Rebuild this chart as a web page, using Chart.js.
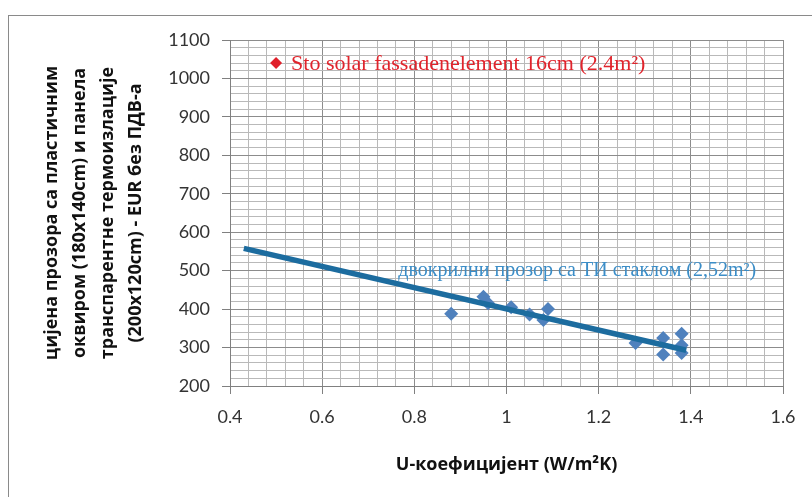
<!DOCTYPE html>
<html>
<head>
<meta charset="utf-8">
<script src="https://cdn.jsdelivr.net/npm/chart.js@4"></script>
<style>
  html, body { margin: 0; padding: 0; background: #fff; }
  #wrap { position: relative; width: 812px; height: 497px; overflow: hidden; }
  #frame { position: absolute; left: 8px; top: 15px; width: 820px; height: 500px; border: 1px solid #8a8a8a; box-sizing: border-box; }
  #c { position: absolute; left: 0; top: 0; }
</style>
</head>
<body>
<div id="wrap">
  <div id="frame"></div>
  <canvas id="c" width="812" height="497"></canvas>
</div>
<script>
// window prices vs. U-value
const uValues = [0.88, 0.95, 0.96, 1.01, 1.05, 1.08, 1.09, 1.28, 1.34, 1.34, 1.38, 1.38, 1.38];
const prices  = [388, 432, 415, 405, 386, 372, 400, 312, 325, 282, 336, 306, 286];
// linear trend line endpoints
const trendU     = [0.43, 1.39];
const trendPrice = [558, 293];
// Sto solar facade element
const stoU     = [0.5];
const stoPrice = [1040];

const xTicks = [0.4, 0.6, 0.8, 1, 1.2, 1.4, 1.6];
const yTicks = [200, 300, 400, 500, 600, 700, 800, 900, 1000, 1100];

const stoLabel = 'Sto solar fassadenelement 16cm (2.4m²)';
const winLabel = 'двокрилни прозор са ТИ стаклом (2,52m²)';
const winLabelAt = [0.765, 500];

const yTitle = [
  'цијена прозора са пластичним',
  'оквиром (180x140cm) и панела',
  'транспарентне термоизлације',
  '(200x120cm) - EUR без ПДВ-а'
];
const xTitle = 'U-коефицијент (W/m²K)';

const isMajor = (list, v) => list.some(t => Math.abs(t - v) < 1e-6);

const labelPlugin = {
  id: 'seriesLabels',
  afterDatasetsDraw(chart) {
    const { ctx, scales: { x, y } } = chart;
    ctx.save();
    ctx.textBaseline = 'middle';
    ctx.textAlign = 'left';
    ctx.font = '22px "Liberation Serif", "Times New Roman", serif';
    ctx.fillStyle = '#e0242c';
    ctx.fillText(stoLabel, x.getPixelForValue(stoU[0]) + 15, y.getPixelForValue(stoPrice[0]) + 1);
    ctx.font = '20px "Liberation Serif", "Times New Roman", serif';
    ctx.fillStyle = '#3b8dc7';
    ctx.fillText(winLabel, x.getPixelForValue(winLabelAt[0]), y.getPixelForValue(winLabelAt[1]));
    ctx.restore();
  }
};

const tickFont = { family: 'Lato, "Open Sans", sans-serif', size: 18 };

new Chart(document.getElementById('c'), {
  type: 'scatter',
  data: {
    datasets: [
      {
        label: 'trend',
        data: trendU.map((u, i) => ({ x: u, y: trendPrice[i] })),
        showLine: true,
        borderColor: '#1c6c9f',
        borderWidth: 5.5,
        pointRadius: 0,
        order: 0
      },
      {
        label: winLabel,
        data: uValues.map((u, i) => ({ x: u, y: prices[i] })),
        pointStyle: 'rectRot',
        pointRadius: 7,
        backgroundColor: '#4f81bd',
        borderColor: '#4f81bd',
        borderWidth: 0,
        order: 1
      },
      {
        label: stoLabel,
        data: stoU.map((u, i) => ({ x: u, y: stoPrice[i] })),
        pointStyle: 'rectRot',
        pointRadius: 6,
        backgroundColor: '#e0202a',
        borderColor: '#e0202a',
        borderWidth: 0,
        order: 1
      }
    ]
  },
  options: {
    responsive: false,
    animation: false,
    devicePixelRatio: 1,
    layout: { padding: { left: 38, top: 40, right: 29, bottom: 0 } },
    plugins: { legend: { display: false }, tooltip: { enabled: false } },
    scales: {
      x: {
        type: 'linear',
        min: 0.4,
        max: 1.6,
        afterFit: s => { s.height = 111; },
        border: { color: '#808080', width: 1 },
        grid: {
          color: c => isMajor(xTicks, c.tick.value) ? '#8c8c8c' : '#b9b9b9',
          tickColor: c => isMajor(xTicks, c.tick.value) ? '#808080' : 'rgba(0,0,0,0)',
          tickLength: 8
        },
        ticks: {
          stepSize: 0.04,
          autoSkip: false,
          maxRotation: 0,
          padding: 12,
          color: '#333',
          font: tickFont,
          callback: v => {
            const r = Math.round(v * 100) / 100;
            return isMajor(xTicks, r) ? String(r) : '';
          }
        },
        title: {
          display: true,
          text: xTitle,
          color: '#111',
          font: { family: '"Open Sans", sans-serif', size: 18, weight: 'bold' },
          padding: { top: 0, bottom: 21 }
        }
      },
      y: {
        type: 'linear',
        min: 200,
        max: 1100,
        afterFit: s => { s.width = 192; },
        border: { color: '#808080', width: 1 },
        grid: {
          color: c => isMajor(yTicks, c.tick.value) ? '#8c8c8c' : '#b9b9b9',
          tickColor: c => isMajor(yTicks, c.tick.value) ? '#808080' : 'rgba(0,0,0,0)',
          tickLength: 8
        },
        ticks: {
          stepSize: 20,
          autoSkip: false,
          padding: 12,
          color: '#333',
          font: tickFont,
          callback: v => isMajor(yTicks, v) ? String(v) : ''
        },
        title: {
          display: true,
          text: yTitle,
          color: '#111',
          font: { family: '"Open Sans", sans-serif', size: 18, weight: 'bold', lineHeight: '28px' },
          padding: { top: 0, bottom: 0 }
        }
      }
    }
  },
  plugins: [labelPlugin]
});
</script>
</body>
</html>
